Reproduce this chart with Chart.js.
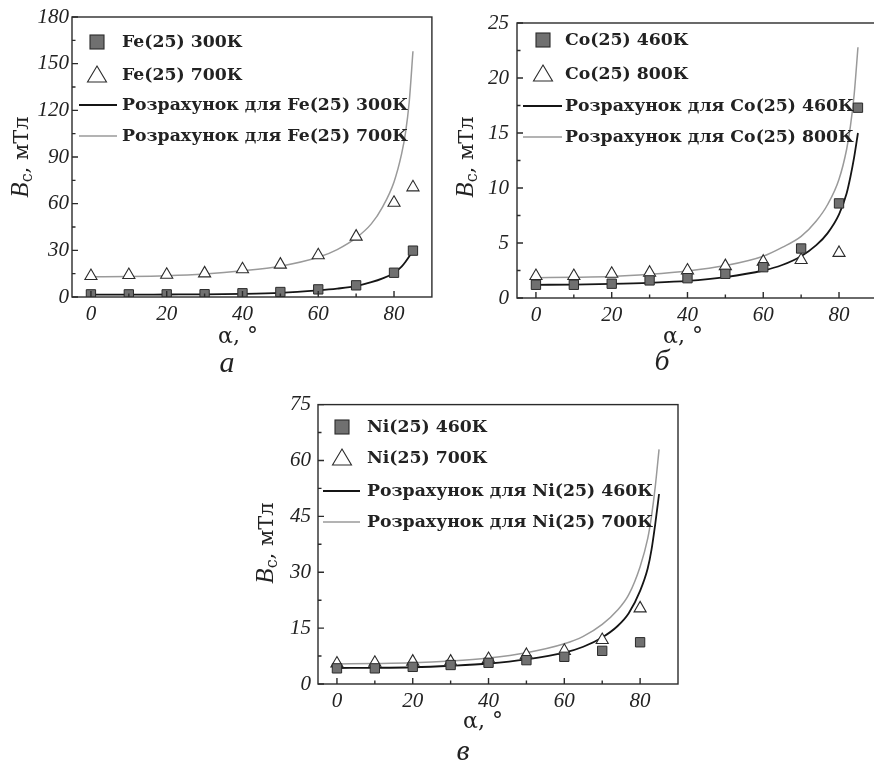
<!DOCTYPE html>
<html>
<head>
<meta charset="utf-8">
<script src="https://cdn.jsdelivr.net/npm/chart.js@4.4.1/dist/chart.umd.min.js"></script>
<style>
  body { margin: 0; background: #fff; width: 874px; height: 765px; overflow: hidden; position: relative; }
  canvas { position: absolute; }
</style>
</head>
<body>
<canvas id="chartFe" width="440" height="380" style="left:0;top:0"></canvas>
<canvas id="chartCo" width="445" height="380" style="left:440px;top:0"></canvas>
<canvas id="chartNi" width="470" height="380" style="left:220px;top:385px"></canvas>
<script>
// measured angles (deg) and calculated-curve angles
const angles = [0, 10, 20, 30, 40, 50, 60, 70, 80, 85];
const calcAngles = [0, 10, 20, 30, 40, 50, 60, 65, 70, 74, 77, 80, 82, 83, 84, 85];

// Fe(25)
const fe300 = [1.7, 1.7, 1.7, 1.8, 2.4, 3.2, 4.9, 7.5, 15.6, 29.8];
const fe700 = [13.5, 14.1, 14.3, 15.2, 17.8, 20.8, 26.8, 38.8, 60.6, 70.5];
const fe300Calc = [1.5, 1.5, 1.6, 1.7, 2.0, 2.7, 4.3, 5.4, 7.0, 9.5, 12, 15.5, 19.5, 22.5, 26, 30];
const fe700Calc = [13, 13.2, 13.7, 14.8, 16.8, 19.8, 25.5, 30.5, 38, 47, 58, 74, 92, 105, 125, 158];

// Co(25)
const co460 = [1.2, 1.2, 1.3, 1.6, 1.8, 2.2, 2.8, 4.5, 8.6, 17.3];
const co800 = [2.0, 2.0, 2.2, 2.3, 2.5, 2.9, 3.3, 3.45, 4.1];
const co460Calc = [1.2, 1.22, 1.28, 1.38, 1.55, 1.9, 2.5, 3.0, 3.8, 4.8, 5.9, 7.6, 9.5, 11, 12.8, 15];
const co800Calc = [1.85, 1.88, 1.95, 2.15, 2.45, 2.95, 3.8, 4.6, 5.6, 7.0, 8.5, 10.8, 13.5, 15.6, 18.5, 22.8];

// Ni(25)
const ni460 = [4.2, 4.2, 4.6, 5.1, 5.7, 6.4, 7.3, 8.9, 11.2];
const ni700 = [5.5, 5.7, 6.0, 6.0, 6.7, 7.8, 8.9, 11.8, 20.3];
const ni460Calc = [4.3, 4.35, 4.5, 4.9, 5.5, 6.6, 8.4, 10, 12.5, 15.5, 19, 25, 31, 36, 43, 51];
const ni700Calc = [5.4, 5.5, 5.7, 6.2, 7.0, 8.4, 10.8, 12.8, 16, 19.8, 24, 31.5, 39, 45, 53, 63];

// tick labels
const xTicks = [0, 20, 40, 60, 80];
const feYTicks = [0, 30, 60, 90, 120, 150, 180];
const coYTicks = [0, 5, 10, 15, 20, 25];
const niYTicks = [0, 15, 30, 45, 60, 75];

const INK = '#2b2b2b';
const SERIF = '"DejaVu Serif", serif';
const ITALIC = '"Liberation Serif", serif';

function pts(xs, ys) {
    return ys.map((y, i) => ({ x: xs[i], y }));
}

function squareSet(label, ys) {
    return {
        label, data: pts(angles, ys), kind: 'square',
        pointStyle: 'rect', pointRadius: 6.6, borderWidth: 1,
        backgroundColor: '#707070', borderColor: INK, order: 0
    };
}

function triangleSet(label, ys) {
    return {
        label, data: pts(angles, ys), kind: 'triangle',
        pointStyle: 'triangle', pointRadius: 7, borderWidth: 1.1,
        backgroundColor: '#fff', borderColor: INK, order: 0
    };
}

function curveSet(label, ys, color, width) {
    return {
        label, data: pts(calcAngles, ys), kind: 'line',
        showLine: true, pointRadius: 0, borderColor: color, borderWidth: width,
        cubicInterpolationMode: 'monotone', order: 1
    };
}

// frame, inward ticks, legend and axis titles
const panelDecor = {
    id: 'panelDecor',
    afterDraw(chart, args, o) {
        const ctx = chart.ctx;
        const a = chart.chartArea;
        const xs = chart.scales.x, ys = chart.scales.y;
        ctx.save();
        ctx.strokeStyle = INK;
        ctx.lineWidth = 1.4;

        const xVals = xs.ticks.map(t => t.value);
        const yVals = ys.ticks.map(t => t.value);
        const xStep = xVals[1] - xVals[0], yStep = yVals[1] - yVals[0];
        ctx.beginPath();
        xVals.forEach(v => {
            const px = xs.getPixelForValue(v);
            ctx.moveTo(px, a.bottom); ctx.lineTo(px, a.bottom - 6);
            const mx = xs.getPixelForValue(v + xStep / 2);
            if (mx < a.right) { ctx.moveTo(mx, a.bottom); ctx.lineTo(mx, a.bottom - 3.5); }
        });
        yVals.forEach(v => {
            const py = ys.getPixelForValue(v);
            ctx.moveTo(a.left, py); ctx.lineTo(a.left + 6, py);
            const my = ys.getPixelForValue(v + yStep / 2);
            if (my > a.top) { ctx.moveTo(a.left, my); ctx.lineTo(a.left + 3.5, my); }
        });
        ctx.stroke();
        ctx.strokeRect(a.left, a.top, a.right - a.left, a.bottom - a.top);

        // legend
        ctx.font = 'bold 17.3px ' + SERIF;
        ctx.textBaseline = 'middle';
        ctx.textAlign = 'left';
        chart.data.datasets.forEach((ds, i) => {
            const y = o.legendRows[i];
            const x = o.legendX;
            ctx.lineWidth = 1.1;
            if (ds.kind === 'square') {
                ctx.fillStyle = ds.backgroundColor; ctx.strokeStyle = ds.borderColor;
                ctx.fillRect(x - 7, y - 7, 14, 14); ctx.strokeRect(x - 7, y - 7, 14, 14);
            } else if (ds.kind === 'triangle') {
                ctx.fillStyle = '#fff'; ctx.strokeStyle = ds.borderColor;
                ctx.beginPath();
                ctx.moveTo(x, y - 9); ctx.lineTo(x + 9.5, y + 7); ctx.lineTo(x - 9.5, y + 7);
                ctx.closePath(); ctx.fill(); ctx.stroke();
            } else {
                ctx.strokeStyle = ds.borderColor; ctx.lineWidth = ds.borderWidth;
                ctx.beginPath(); ctx.moveTo(o.lineFrom, y); ctx.lineTo(o.lineTo, y); ctx.stroke();
            }
            ctx.fillStyle = '#222';
            ctx.fillText(ds.label, o.textX, y + 1);
        });

        // y title: B_c, мТл
        ctx.save();
        ctx.translate(o.yTitle[0], o.yTitle[1]);
        ctx.rotate(-Math.PI / 2);
        ctx.textBaseline = 'alphabetic';
        const fB = 'italic 25px ' + ITALIC, fc = '16px ' + SERIF, fr = '21px ' + SERIF;
        ctx.font = fB; const wB = ctx.measureText('B').width;
        ctx.font = fc; const wc = ctx.measureText('c').width;
        ctx.font = fr; const wr = ctx.measureText(', мТл').width;
        let sx = -(wB + wc + wr) / 2;
        ctx.fillStyle = '#222';
        ctx.font = fB; ctx.fillText('B', sx, 8); sx += wB;
        ctx.font = fc; ctx.fillText('c', sx, 12); sx += wc;
        ctx.font = fr; ctx.fillText(', мТл', sx, 8);
        ctx.restore();

        // x title and panel letter
        ctx.textAlign = 'center';
        ctx.textBaseline = 'middle';
        ctx.fillStyle = '#222';
        ctx.font = '22px ' + SERIF;
        ctx.fillText('α, °', o.xTitle[0], o.xTitle[1]);
        ctx.font = 'italic 30px ' + ITALIC;
        ctx.fillText(o.letter, o.letterPos[0], o.letterPos[1]);
        ctx.restore();
    }
};

function makePanel(id, datasets, yTicks, geo) {
    const tickFont = { family: ITALIC, style: 'italic', size: 21 };
    return new Chart(document.getElementById(id), {
        type: 'scatter',
        data: { datasets },
        options: {
            responsive: false,
            animation: false,
            devicePixelRatio: 1,
            layout: { padding: { top: geo.top, right: geo.right, left: 0, bottom: 0 } },
            plugins: { legend: { display: false }, tooltip: { enabled: false }, panelDecor: geo.decor },
            scales: {
                x: {
                    type: 'linear', min: -5, max: 90,
                    grid: { display: false, drawTicks: false }, border: { display: false },
                    ticks: { font: tickFont, color: '#222', padding: 5 },
                    afterBuildTicks: s => { s.ticks = xTicks.map(v => ({ value: v })); },
                    afterFit: s => { s.height = geo.xHeight; }
                },
                y: {
                    type: 'linear', min: yTicks[0], max: yTicks[yTicks.length - 1],
                    grid: { display: false, drawTicks: false }, border: { display: false },
                    ticks: { font: tickFont, color: '#222', padding: geo.yPad },
                    afterBuildTicks: s => { s.ticks = yTicks.map(v => ({ value: v })); },
                    afterFit: s => { s.width = geo.yWidth; }
                }
            }
        },
        plugins: [panelDecor]
    });
}

makePanel('chartFe', [
    squareSet('Fe(25) 300К', fe300),
    triangleSet('Fe(25) 700К', fe700),
    curveSet('Розрахунок для Fe(25) 300К', fe300Calc, '#151515', 1.8),
    curveSet('Розрахунок для Fe(25) 700К', fe700Calc, '#9a9a9a', 1.5)
], feYTicks, {
    top: 17, right: 6, xHeight: 83, yWidth: 72, yPad: 3,
    decor: {
        legendX: 97, legendRows: [42, 75, 105, 136], lineFrom: 79, lineTo: 117, textX: 122,
        yTitle: [20, 157], xTitle: [238, 337], letter: 'а', letterPos: [227, 364]
    }
});

makePanel('chartCo', [
    squareSet('Co(25) 460К', co460),
    triangleSet('Co(25) 800К', co800),
    curveSet('Розрахунок для Co(25) 460К', co460Calc, '#151515', 1.8),
    curveSet('Розрахунок для Co(25) 800К', co800Calc, '#9a9a9a', 1.5)
], coYTicks, {
    top: 23, right: 4, xHeight: 82, yWidth: 77, yPad: 8,
    decor: {
        legendX: 103, legendRows: [40, 74, 106, 137], lineFrom: 83, lineTo: 122, textX: 125,
        yTitle: [25, 157], xTitle: [243, 337], letter: 'б', letterPos: [222, 362]
    }
});

makePanel('chartNi', [
    squareSet('Ni(25) 460К', ni460),
    triangleSet('Ni(25) 700К', ni700),
    curveSet('Розрахунок для Ni(25) 460К', ni460Calc, '#151515', 1.8),
    curveSet('Розрахунок для Ni(25) 700К', ni700Calc, '#9a9a9a', 1.5)
], niYTicks, {
    top: 19, right: 12, xHeight: 81, yWidth: 98, yPad: 7,
    decor: {
        legendX: 122, legendRows: [42, 73, 106, 137], lineFrom: 103, lineTo: 140, textX: 147,
        yTitle: [45, 158], xTitle: [263, 337], letter: 'в', letterPos: [243, 367]
    }
});
</script>
</body>
</html>
